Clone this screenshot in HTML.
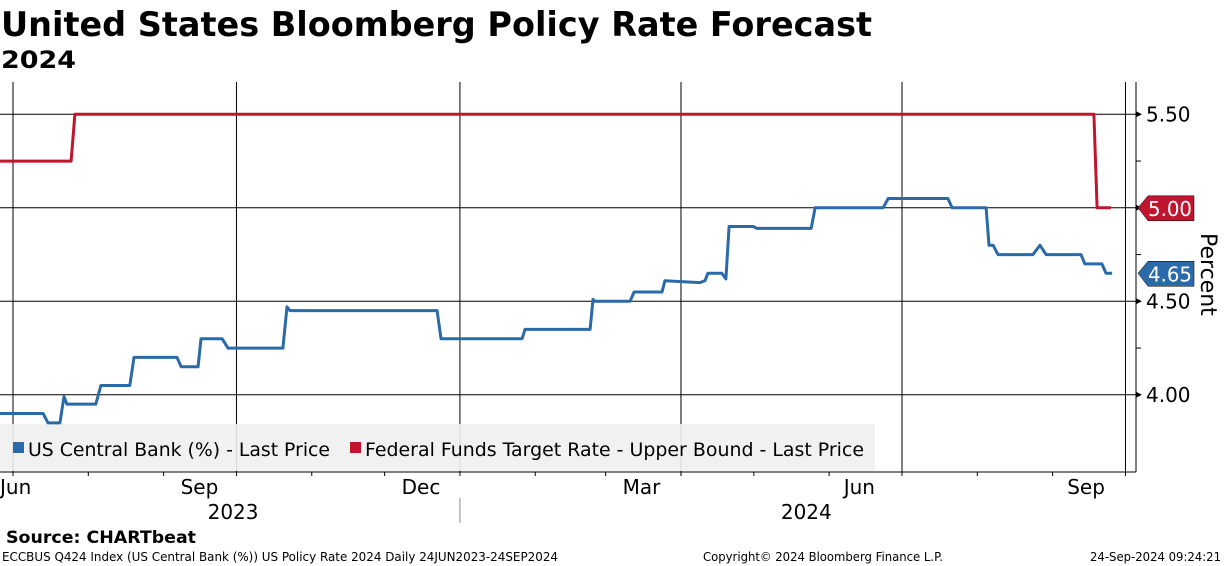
<!DOCTYPE html>
<html><head><meta charset="utf-8"><style>
html,body{margin:0;padding:0;background:#fff;}
svg{display:block;font-family:"DejaVu Sans","Liberation Sans",sans-serif;}
</style></head><body>
<svg id="chart" width="1224" height="566" viewBox="0 0 1224 566" xmlns="http://www.w3.org/2000/svg">
<text x="1" y="36" font-size="34" font-weight="bold" textLength="871" lengthAdjust="spacingAndGlyphs">United States Bloomberg Policy Rate Forecast</text>
<text x="1" y="68" font-size="24" font-weight="bold" textLength="75" lengthAdjust="spacingAndGlyphs">2024</text>
<g id="grid"></g>
<g id="legend">
<rect x="0" y="424" width="875" height="47" fill="#efefef" fill-opacity="0.9"/>
<rect x="13" y="442" width="11" height="11" fill="#2a6aa8"/>
<text x="28" y="456" font-size="19" textLength="302" lengthAdjust="spacingAndGlyphs">US Central Bank (%) - Last Price</text>
<rect x="350" y="442" width="11" height="11" fill="#c0152f"/>
<text x="365" y="456" font-size="19" textLength="499" lengthAdjust="spacingAndGlyphs">Federal Funds Target Rate - Upper Bound - Last Price</text>
</g>
<g id="series"></g>
<g id="axes"></g>
<text transform="translate(1201,233) rotate(90)" font-size="22">Percent</text>
<text x="6" y="543" font-size="17" font-weight="bold" textLength="190" lengthAdjust="spacingAndGlyphs">Source: CHARTbeat</text>
<text x="2" y="561" font-size="12" textLength="556" lengthAdjust="spacingAndGlyphs">ECCBUS Q424 Index (US Central Bank (%)) US Policy Rate 2024  Daily 24JUN2023-24SEP2024</text>
<text x="703" y="561" font-size="12" textLength="240" lengthAdjust="spacingAndGlyphs">Copyright© 2024 Bloomberg Finance L.P.</text>
<text x="1090" y="561" font-size="12" textLength="131" lengthAdjust="spacingAndGlyphs">24-Sep-2024 09:24:21</text>
</svg>
<script>
// days since 24-Jun-2023
const blueDays = [0,19.4,21.4,26.3,28,29.2,41.1,43.2,55.1,56.8,58,74.5,76.2,83.2,84.4,93.1,95.5,118.1,119.8,121,181.6,183.2,216.6,217.8,244.6,245.8,246.6,261,262.7,274.2,275.4,289.8,291.9,293.1,298.8,300.5,301.8,311.7,313.3,335.6,337.2,365.2,367.3,391.9,393.6,407.6,408.8,410.5,412.5,426.9,429.8,432.3,446.7,448.3,455.3,457,459.5];
const blueVals = [3.90,3.90,3.85,3.85,3.99,3.95,3.95,4.05,4.05,4.20,4.20,4.20,4.15,4.15,4.30,4.30,4.25,4.25,4.47,4.45,4.45,4.30,4.30,4.35,4.35,4.51,4.50,4.50,4.55,4.55,4.61,4.60,4.61,4.65,4.65,4.62,4.90,4.90,4.89,4.89,5.00,5.00,5.05,5.05,5.00,5.00,4.80,4.80,4.75,4.75,4.80,4.75,4.75,4.70,4.70,4.65,4.65];
const redDays = [0,30.9,32.5,452,453.3,459];
const redVals = [5.25,5.25,5.50,5.50,5.00,5.00];
const yTicks = [5.50,5.00,4.50,4.00];
const yTickLabels = ["5.50","5.00","4.50","4.00"];
const yMinor = [5.25,4.75,4.25];
const monthTickDays = [7,38,69,99,130,160,191,222,251,282,312,343,373,404,435,465];
const gridDays = [7,99,191,282,373,465];
const monthLabels = ["Jun","Sep","Dec","Mar","Jun","Sep"];
const monthLabelDays = [-9,83,174,265,356,448];
const yearLabels = ["2023","2024"];
const yearLabelDays = [97,333];
const yearSepDays = [191];
const lastBlue = 4.65, lastRed = 5.00;

const NS="http://www.w3.org/2000/svg";
const xS = d => 13 + (d-7)*2.429;
const yS = v => 114.3 + (5.5 - v)*187;
function mk(tag, attrs, parent){const e=document.createElementNS(NS,tag);for(const k in attrs)e.setAttribute(k,attrs[k]);parent.appendChild(e);return e;}
const grid=document.getElementById('grid'), axes=document.getElementById('axes'), series=document.getElementById('series');
const TOP=82, BOT=472, AX=1136;
gridDays.forEach(d=>{const l=mk('line',{x1:xS(d),x2:xS(d),y1:TOP,y2:BOT,stroke:'#000','stroke-width':1},grid);

});
yTicks.forEach((v,i)=>{const l=mk('line',{x1:0,x2:AX,y1:yS(v),y2:yS(v),stroke:'#000','stroke-width':1},grid);


const t=mk('polygon',{points:`${AX},${yS(v)-3} ${AX+6},${yS(v)} ${AX},${yS(v)+3}`,fill:'#000'},axes);


const tx=mk('text',{x:AX+10,y:yS(v)+7,'font-size':20},axes);tx.textContent=yTickLabels[i];

});
yMinor.forEach(v=>{const l=mk('line',{x1:AX,x2:AX+5,y1:yS(v),y2:yS(v),stroke:'#000'},axes);

});
const ya=mk('line',{x1:AX,x2:AX,y1:TOP,y2:BOT,stroke:'#000'},axes);


const xa=mk('line',{x1:0,x2:AX,y1:BOT,y2:BOT,stroke:'#000'},axes);


monthTickDays.forEach(d=>{const l=mk('line',{x1:xS(d),x2:xS(d),y1:BOT,y2:BOT+4,stroke:'#000'},axes);

});
monthLabels.forEach((m,i)=>{const t=mk('text',{x:Math.max(0,xS(monthLabelDays[i])-17),y:494,'font-size':20},axes);t.textContent=m;

});
yearLabels.forEach((y,i)=>{const t=mk('text',{x:xS(yearLabelDays[i])-24,y:519,'font-size':20},axes);t.textContent=y;

});
yearSepDays.forEach(d=>{const l=mk('line',{x1:xS(d),x2:xS(d),y1:498,y2:523,stroke:'#888'},axes);

});
function path(days,vals,color,name){const p=mk('polyline',{points:days.map((d,i)=>xS(d).toFixed(1)+','+yS(vals[i]).toFixed(1)).join(' '),fill:'none',stroke:color,'stroke-width':3,'stroke-linejoin':'round'},series);

}
path(redDays,redVals,'#c0152f','fed-funds-line');
path(blueDays,blueVals,'#2a6aa8','us-central-bank-line');
function tag(v,color,name){const y=yS(v);const g=mk('g',{},axes);


mk('polygon',{points:`${AX+2},${y} ${AX+12},${y-12} ${AX+58},${y-12} ${AX+58},${y+13} ${AX+12},${y+13}`,fill:color,stroke:'#000','stroke-width':0.5},g);
const t=mk('text',{x:AX+12,y:y+8,'font-size':20,fill:'#fff',textLength:44,lengthAdjust:'spacingAndGlyphs'},g);t.textContent=v.toFixed(2);}
tag(lastRed,'#c0152f','last-value-tag-fed-funds');
tag(lastBlue,'#2a6aa8','last-value-tag-us-central-bank');
</script>
</body></html>
